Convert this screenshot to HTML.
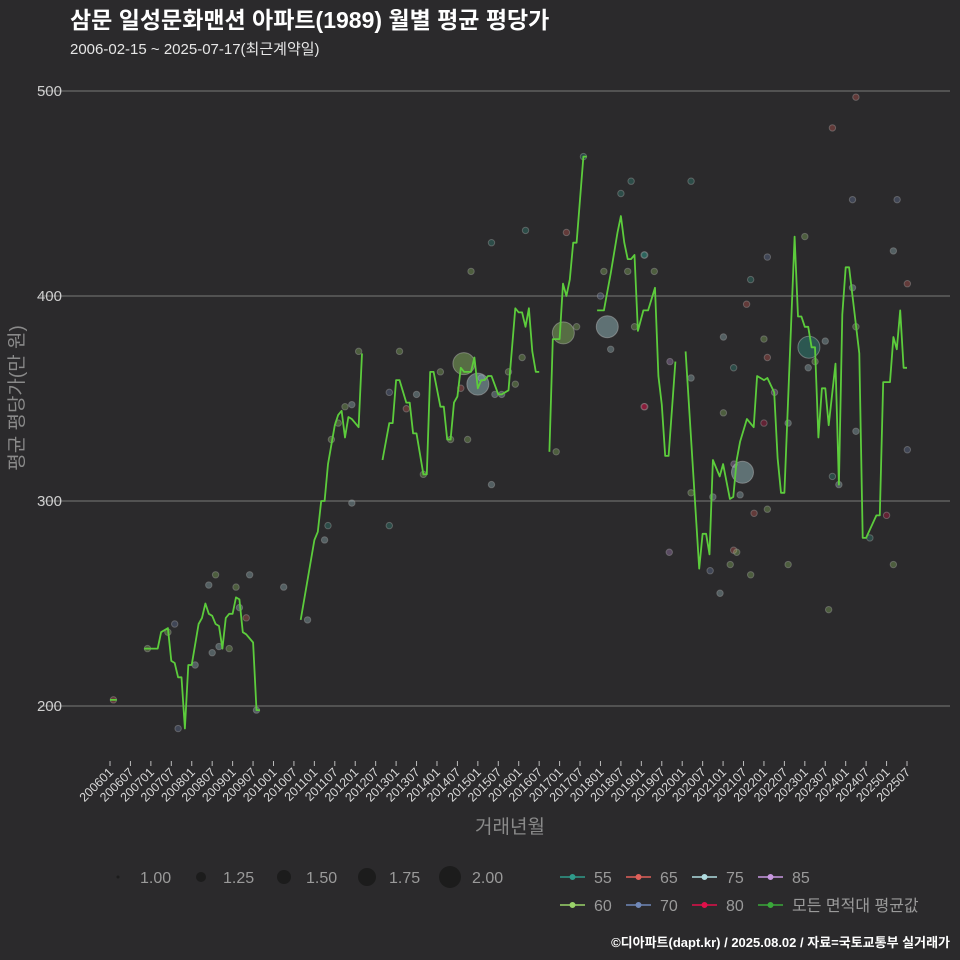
<!DOCTYPE html>
<html><head><meta charset="utf-8">
<style>
html,body{margin:0;padding:0;background:#2b2a2c;}
#wrap{position:relative;width:960px;height:960px;background:#2b2a2c;font-family:"Liberation Sans","Noto Sans CJK KR",sans-serif;overflow:hidden;}
svg text{font-family:"Liberation Sans","Noto Sans CJK KR",sans-serif;}
</style></head>
<body>
<div id="wrap">
<svg id="chart" width="960" height="960">
  <text x="70" y="28" fill="#ffffff" font-size="23" font-weight="bold">삼문 일성문화맨션 아파트(1989) 월별 평균 평당가</text>
  <text x="70" y="54" fill="#e6e6e6" font-size="15">2006-02-15 ~ 2025-07-17(최근계약일)</text>
  <g id="grid"></g>
  <g id="yaxis"></g>
  <g id="xaxis"></g>
  <g id="points"></g>
  <g id="line"></g>
  <text transform="translate(23,398) rotate(-90)" text-anchor="middle" fill="#8a8a8a" font-size="19">평균 평당가(만 원)</text>
  <text x="510" y="833" text-anchor="middle" fill="#8a8a8a" font-size="19">거래년월</text>
  <g id="legend"></g>
  <text x="950" y="947" text-anchor="end" fill="#ffffff" font-size="13" font-weight="bold">©디아파트(dapt.kr) / 2025.08.02 / 자료=국토교통부 실거래가</text>
</svg>
</div>
<script>
const yTicks = [200, 300, 400, 500];
const xTickLabels = [];
for (let y = 2006; y <= 2025; y++) { xTickLabels.push(y + '01'); xTickLabels.push(y + '07'); }
// line: month index since 2006-01, value; null = gap
const lineMonths = [0,2,null,
 10,14,15,16,17,18,19,20,21,22,23,24,26,27,28,29,30,31,32,33,34,35,36,37,38,39,40,42,43,44,45,null,
 49,53,null,
 56,60,61,62,63,64,66,67,68,69,70,71,72,73,74,75,null,
 80,82,83,84,85,87,88,89,90,92,93,94,95,97,98,99,100,101,102,103,104,106,107,108,109,110,111,112,114,115,117,119,120,121,122,123,124,125,126,127,null,
 129,130,132,133,134,135,136,137,139,140,141,null,
 143,145,147,149,150,151,152,153,154,155,156.6,158,160,161,162,163,164,166,167,null,
 169,173,174,175,176,177,179,180,182,183,184,185,187,189,190,192,193,195,196,197,198,201,202,203,204,205,206,207,208,209,210,211,213,214,215,216,217,220,221,222,225,226,227,229,230,231,232,233,234,235];
const lineValues = [203,203,null,
 228,228,236,237,238,222,221,214,214,189,220,220,240,243,250,245,244,240,239,228,243,245,245,253,252,236,235,231,198,198,null,
 258,258,null,
 242,242,281,285,300,300,318,337,342,344,331,341,340,338,336,372,null,
 320,320,338,338,359,359,348,348,333,333,313,313,363,363,346,346,330,330,348,351,365,363,363,370,355,359,359,361,361,352,352,354,394,392,392,385,394,373,363,363,null,
 324,324,379,379,406,400,408,426,426,468,468,null,
 406,393,393,411,431,439,426,418,418,420,383,393,393,404,361,347,322,322,368,null,
 373,373,267,284,284,274,320,312,318,301,302,320,329,340,336,361,359,360,353,321,304,304,429,390,390,385,385,375,375,331,355,355,337,367,308,391,414,414,372,282,282,293,293,358,358,380,374,393,365,365];
// scatter points
const ptMonths = [1,11,17,19,20,25,29,31,30,32,35,37,38,40,41,43,51,58,64,63,65,67,69,71,71,73,82,82,85,87,90,92,97,100,105,106,112,112,113,117,121,122,131,134,137,139,144,145,147,150,152,153,154,157,103,109,115,119,157,
 156.8,159.8,156.8,164.4,170.6,170.6,170.6,164.2,176.2,177,179.1,180.1,180.1,182.1,183.1,184,183.1,183.2,185,186.9,188.1,188.1,189.1,192,193,192,193,193,195.1,199.1,199.1,204,205,207,210,211,212.1,212.1,214,218,218,219,219,219,223.1,228,230,231.1,230,234.1,234.1];
const ptValues = [203,228,236,240,189,220,259,264,226,229,228,258,248,243,264,198,258,242,288,281,330,338,346,347,299,373,288,353,373,345,352,313,363,330,330,412,308,426,352,363,370,432,324,431,385,468,400,412,374,450,412,456,385,420,355,360,352,357,346,
 420,412,346,368,456,360,304,275,266,302,255,380,343,269,276,275,365,318,303,396,408,264,294,379,370,338,419,296,353,338,269,429,365,368,378,247,482,312,308,447,404,497,385,334,282,293,422,447,269,406,325];
const ptTypes = [65,60,60,70,70,75,75,60,75,75,60,60,75,65,75,75,75,75,55,75,60,60,60,75,75,60,55,70,60,65,75,60,60,60,60,60,75,55,75,60,60,55,60,65,60,55,70,60,75,55,60,55,60,55,65,70,75,60,80,
 55,60,80,85,55,75,60,85,70,75,75,75,60,60,65,60,55,85,75,65,55,60,65,60,65,80,70,60,85,75,60,60,75,60,75,60,65,55,75,70,75,65,60,75,55,80,75,70,60,65,70];
const bigMonths = [103.9,108,133.1,146,185.7,205.2];
const bigValues = [367,357,382,385,314,375];
const bigTypes = [60,75,60,75,75,55];

const colors = {55:'#2f9a8a',60:'#9ad36a',65:'#e0605a',70:'#7088b8',75:'#b0dce0',80:'#e0104a',85:'#c898e0'};
const NS='http://www.w3.org/2000/svg';
function el(tag, attrs, parent){const e=document.createElementNS(NS,tag);for(const k in attrs)e.setAttribute(k,attrs[k]);parent.appendChild(e);return e;}
function xScale(m){return 110 + m*3.406;}
function yScale(v){return 706 - (v-200)*2.05;}

const grid=document.getElementById('grid'), yaxis=document.getElementById('yaxis'), xaxis=document.getElementById('xaxis');
yTicks.forEach(v=>{
  const l=el('line',{x1:40,x2:950,y1:yScale(v),y2:yScale(v),stroke:'#6a6a6a','stroke-width':1.2},grid);
  
  
  const t=el('text',{x:62,y:yScale(v)+5,'text-anchor':'end',fill:'#cfcfcf','font-size':15},yaxis);
  t.textContent=v;
  
  
});
xTickLabels.forEach((lab,i)=>{
  const x=xScale(i*6);
  const tk=el('line',{x1:x,x2:x,y1:761,y2:766,stroke:'#bbbbbb','stroke-width':1},xaxis);
  
  
  const t=el('text',{transform:`translate(${x+4},${773}) rotate(-45)`,'text-anchor':'end',fill:'#d8d8d8','font-size':12.5},xaxis);
  t.textContent=lab;
  
  
});

const pts=document.getElementById('points');
ptMonths.forEach((m,i)=>{
  const c=el('circle',{cx:xScale(m),cy:yScale(ptValues[i]),r:3.2,fill:colors[ptTypes[i]],'fill-opacity':0.3,stroke:'#9a9a9a','stroke-opacity':0.45,'stroke-width':1},pts);
  
  
});
bigMonths.forEach((m,i)=>{
  const c=el('circle',{cx:xScale(m),cy:yScale(bigValues[i]),r:11,fill:colors[bigTypes[i]],'fill-opacity':0.4,stroke:'#cccccc','stroke-opacity':0.4,'stroke-width':1},pts);
  
  
});

const lineG=document.getElementById('line');
let d='', pen=false;
lineMonths.forEach((m,i)=>{
  if(m===null||lineValues[i]===null){pen=false;return;}
  d+=(pen?'L':'M')+xScale(m).toFixed(1)+','+yScale(lineValues[i]).toFixed(1)+' ';
  pen=true;
});
const p=el('path',{d:d,fill:'none',stroke:'#5ccc3c','stroke-width':1.8,'stroke-linejoin':'round'},lineG);



// legend
const lg=document.getElementById('legend');
const sizeLabels=['1.00','1.25','1.50','1.75','2.00'];
const sizeR=[1.5,5,7,9,11];
sizeLabels.forEach((s,i)=>{
  const x=118+i*83;
  const c=el('circle',{cx:x,cy:877,r:sizeR[i],fill:'#1c1c1c'},lg);
  
  
  const t=el('text',{x:x+22,y:883,fill:'#9a9a9a','font-size':16},lg);
  t.textContent=s;
  
  
});
const legItems=[[55,0,0],[65,1,0],[75,2,0],[85,3,0],[60,0,1],[70,1,1],[80,2,1],['all',3,1]];
legItems.forEach(([k,c,r])=>{
  const x=560+c*66, y=877+r*28;
  const col=k==='all'?'#3aa83a':colors[k];
  const l=el('line',{x1:x,x2:x+25,y1:y,y2:y,stroke:col,'stroke-width':1.5},lg);
  
  
  const ci=el('circle',{cx:x+12.5,cy:y,r:2.5,fill:col,stroke:col},lg);
  
  
  const t=el('text',{x:x+34,y:y+6,fill:'#9a9a9a','font-size':16},lg);
  t.textContent=k==='all'?'모든 면적대 평균값':String(k);
  
  
});
</script>
</body></html>
